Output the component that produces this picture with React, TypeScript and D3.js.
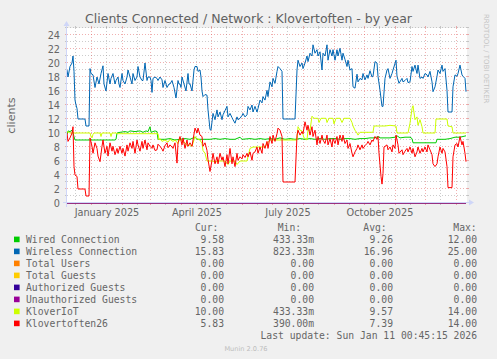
import React from "react";
import * as d3 from "d3";

type Pt = [number, number];

// Time window of the "by year" graph (400 days)
const START = Date.UTC(2024, 11, 7, 0, 45, 15);
const END = Date.UTC(2026, 0, 11, 0, 45, 15);

// [day offset from START, value]
const wiredData: Pt[] = [
  [0, 9.8], [1, 10.3], [3, 10.2], [5, 10.4], [6, 10], [7, 9.5], [8, 9.0], [48, 9.0], [49, 9.1], [50, 10],
  [53, 10.1], [58, 10.2], [61, 10.1], [63, 10.3], [68, 10.2], [73, 10.3], [76, 10.1], [79, 10.3], [81, 10.2],
  [83, 10.9], [84, 10.1], [88, 10.3], [90, 10.2], [91, 9.1], [98, 9.1], [103, 9.2], [108, 9.0], [113, 9.1],
  [118, 9.2], [123, 9.1], [128, 9.4], [130, 9.1], [138, 9.1], [143, 9.1], [148, 9.2], [153, 9.1], [158, 9.2],
  [163, 9.1], [168, 9.1], [173, 9.4], [175, 9.1], [183, 9.2], [188, 9.1], [193, 9.2], [198, 9.1], [203, 9.2],
  [208, 9.1], [213, 9.3], [218, 9.1], [223, 9.2], [228, 9.1], [233, 9.2], [238, 9.1], [243, 9.2], [248, 9.1],
  [253, 9.2], [258, 9.1], [263, 9.2], [268, 9.2], [273, 9.1], [278, 9.2], [283, 9.2], [288, 9.1], [293, 9.2],
  [298, 9.2], [303, 9.3], [308, 9.3], [311, 9.5], [313, 9.3], [323, 9.3], [328, 9.4], [330, 9.6], [333, 9.3],
  [338, 9.4], [343, 9.4], [345, 9.2], [346, 8.6], [353, 8.6], [358, 8.6], [363, 8.6], [369, 8.6], [370, 9.1],
  [378, 9.1], [383, 9.2], [388, 9.4], [393, 9.4], [396, 9.5], [399, 9.6],
];

const wirelessData: Pt[] = [
  [0, 19.0], [1, 18.0], [3, 19.5], [5, 20], [6, 21], [7, 18.8], [8, 14.7], [9, 14], [10, 13.5], [11, 12],
  [18, 12], [19, 11], [22, 11], [23, 19.2], [24, 18.5], [26, 18.3], [28, 16.5], [30, 18], [32, 17], [34, 18.5],
  [36, 19.6], [37, 17], [39, 16], [41, 18.5], [43, 17], [44, 17.8], [46, 18.5], [48, 17], [49, 17.5], [51, 18],
  [52, 17], [53, 16.5], [55, 18.5], [56, 17.5], [58, 17], [60, 18], [61, 19], [63, 18], [65, 17], [66, 18.5],
  [68, 17.5], [70, 18], [71, 19.5], [73, 18], [75, 17.5], [76, 17.5], [78, 20], [80, 17.5], [81, 18], [83, 18],
  [84, 17.5], [85, 15.8], [86, 17.8], [88, 18], [90, 17.8], [91, 17.5], [93, 18], [95, 17.6], [96, 16.5],
  [98, 17.5], [100, 16.5], [102, 17], [103, 17], [105, 17.5], [107, 16.5], [109, 15], [111, 17.5], [112, 17],
  [113, 17], [114, 16.5], [115, 18], [117, 17], [119, 16], [121, 18.5], [122, 17], [123, 17], [125, 16],
  [127, 19], [128, 19.5], [130, 19.5], [131, 18.8], [133, 19], [134, 18], [135, 16], [136, 15.2], [138, 15.5],
  [140, 15.4], [141, 13.3], [142, 11.9], [143, 10.5], [144, 10.4], [146, 12.8], [148, 11.9], [150, 13.3],
  [151, 12.3], [153, 13], [155, 11.9], [156, 12.6], [158, 13.2], [160, 13.8], [161, 12.3], [163, 12.8],
  [165, 12.2], [166, 11.9], [168, 11.4], [170, 12.3], [171, 11.9], [173, 12.1], [175, 12.5], [176, 12.8],
  [178, 12.3], [180, 12.6], [181, 13.8], [183, 13.3], [185, 14], [186, 13], [188, 13.8], [190, 13], [191, 13.5],
  [193, 14.7], [195, 14.3], [196, 15.2], [198, 14.7], [200, 16.1], [201, 15.2], [203, 17.3], [205, 16.6],
  [206, 17.8], [208, 17.1], [210, 18.8], [211, 19.5], [213, 19.2], [215, 18.8], [216, 12], [228, 12], [230, 19],
  [231, 20.4], [233, 19.5], [235, 20], [236, 19.2], [238, 20], [240, 21], [241, 20.2], [243, 21.4], [245, 21],
  [246, 22.6], [248, 21.4], [250, 21.9], [251, 21], [253, 21.6], [255, 19], [256, 21.4], [258, 21], [260, 22.6],
  [261, 20.4], [263, 21.9], [265, 21], [266, 21.9], [268, 20.4], [270, 21.9], [271, 21], [273, 22.1], [275, 20.4],
  [276, 21.4], [278, 20.5], [280, 19.5], [281, 20.4], [283, 19], [285, 19.2], [286, 16.6], [288, 16.4],
  [290, 18.4], [291, 17.3], [293, 17.8], [295, 17.6], [296, 18.5], [298, 17.6], [300, 18.3], [301, 17.8],
  [303, 18.9], [305, 18], [306, 18.1], [308, 20.2], [310, 20], [311, 18.1], [313, 16.1], [315, 13.8], [316, 13.8],
  [318, 17.8], [320, 19], [321, 19.2], [323, 17.8], [325, 18.5], [326, 19], [329, 20.4], [330, 18.1], [332, 17.1],
  [335, 17.8], [336, 17.3], [338, 17.5], [340, 17.8], [341, 17.2], [343, 17.3], [345, 19.5], [346, 18.8],
  [348, 19.7], [350, 18.5], [351, 19.7], [353, 17.8], [355, 18], [356, 17.8], [358, 18.5], [360, 18.3], [361, 18],
  [363, 18.8], [365, 17.3], [366, 15.9], [368, 16.6], [370, 18.1], [371, 19], [373, 18.5], [375, 19.7],
  [376, 18.8], [378, 19.2], [380, 16.1], [381, 13], [385, 13], [386, 16.6], [388, 18.3], [390, 18.1], [391, 18.5],
  [393, 19.7], [395, 18.3], [396, 18.1], [398, 17.8], [399, 15.9],
];

const totalUsersData: Pt[] = [[0, 0], [399, 0]];
const totalGuestsData: Pt[] = [[0, 0], [399, 0]];
const authorizedData: Pt[] = [[0, 0], [399, 0]];
const unauthorizedData: Pt[] = [[0, 0], [399, 0]];

const kloverIoTData: Pt[] = [
  [0, 10.2], [3, 10], [23, 10], [24, 9.5], [25, 9.3], [26, 9.8], [27, 10], [33, 10], [34, 9.5], [35, 10],
  [43, 10], [44, 9.5], [45, 10], [49, 10], [50, 9.9], [91, 9.9], [92, 9.0], [93, 9.2], [95, 8.8], [98, 9.0],
  [101, 8.7], [103, 9.1], [106, 8.8], [108, 9.0], [111, 8.5], [113, 9.3], [115, 8.8], [118, 8.6], [120, 8.2],
  [123, 8.3], [125, 8.1], [128, 9.5], [130, 9.2], [133, 9.0], [135, 8.5], [136, 7.5], [138, 7.1], [140, 6.0],
  [146, 6.0], [148, 5.8], [151, 6.0], [158, 6.0], [161, 5.5], [163, 6.0], [168, 6.0], [170, 5.5], [173, 6.0],
  [180, 6.0], [183, 7.8], [186, 8.0], [198, 8.0], [200, 8.5], [203, 9.0], [230, 9.0], [231, 10.9], [233, 10.4],
  [235, 10.3], [237, 9.3], [240, 9.0], [241, 10.4], [243, 10.4], [245, 12.4], [247, 12.1], [251, 12.1],
  [252, 11.5], [254, 12.1], [259, 12.1], [260, 11.5], [262, 12.1], [266, 12.1], [267, 11.3], [269, 12.1],
  [273, 12.1], [275, 11.5], [277, 12.1], [283, 12.1], [285, 11.5], [286, 11.0], [288, 10.4], [290, 10.0],
  [291, 9.7], [293, 10.1], [306, 10.1], [307, 11.0], [313, 11.0], [318, 11.0], [323, 11.1], [329, 11.0],
  [330, 10.0], [341, 10.0], [343, 11.4], [345, 13.5], [346, 13.9], [348, 11.9], [350, 12.3], [351, 11.1],
  [353, 11.9], [355, 10.9], [356, 10.0], [368, 10.0], [369, 12.0], [380, 12.0], [381, 11.0], [385, 10.9],
  [386, 10.0], [399, 10.0],
];

const klovertoften26Data: Pt[] = [
  [0, 10], [1, 8.8], [3, 9.3], [5, 10], [6, 10.9], [7, 5.2], [8, 4], [10, 3.8], [11, 2], [18, 2], [19, 1],
  [22, 1], [23, 9.3], [25, 8.1], [26, 7.1], [28, 8.6], [30, 7.8], [31, 6.7], [33, 5.9], [35, 8.1], [36, 9],
  [38, 7.1], [40, 8.1], [41, 6.7], [43, 8.6], [45, 7.4], [46, 8.1], [48, 6.9], [50, 7.8], [51, 7.1], [53, 8.1],
  [55, 7.1], [56, 7.8], [58, 6.7], [60, 8.3], [61, 7.4], [63, 8.6], [65, 7.8], [66, 8.8], [68, 7.1], [70, 9],
  [71, 8.3], [73, 7.4], [75, 8.8], [76, 7.8], [78, 9], [80, 7.6], [81, 8.6], [83, 8.1], [85, 7.8], [86, 8.3],
  [88, 7.5], [90, 7.6], [91, 8.4], [93, 8.1], [95, 7.7], [96, 7.4], [98, 8.2], [100, 8.6], [101, 7.9], [103, 8.3],
  [105, 8], [106, 7.8], [108, 8.6], [110, 5.7], [111, 8.6], [113, 9.5], [115, 8.3], [116, 9.3], [118, 7.8],
  [120, 9], [121, 8.1], [123, 8.6], [125, 8.1], [126, 9], [128, 10.7], [130, 10], [131, 10.7], [133, 9.7],
  [135, 9.5], [136, 8.1], [138, 8.6], [140, 7.5], [141, 6.2], [143, 4.5], [145, 6.1], [146, 7.1], [148, 5.6],
  [150, 6.6], [151, 5.6], [153, 7.1], [155, 6.1], [156, 6.6], [158, 5.2], [160, 6.9], [161, 5.6], [163, 7.8],
  [165, 5.6], [166, 6.6], [168, 5.2], [170, 7.1], [171, 6.1], [173, 6.6], [175, 6.3], [176, 6.9], [178, 6.5],
  [180, 7.1], [181, 6.6], [183, 7.3], [185, 6.1], [186, 7.1], [188, 7.3], [190, 8.0], [191, 7.1], [193, 8.0],
  [195, 7.1], [196, 8.5], [198, 7.8], [200, 8.8], [201, 7.8], [203, 9.5], [205, 8.5], [206, 9.7], [208, 8.8],
  [210, 9.9], [211, 10.7], [213, 10.4], [215, 9.5], [216, 3], [228, 3], [230, 9.7], [231, 10.4], [233, 9.7],
  [235, 10.2], [236, 9.9], [238, 11.6], [240, 10.4], [241, 11.1], [243, 9.7], [245, 10.9], [246, 9.5],
  [248, 10.4], [250, 8.3], [251, 9.5], [253, 8.5], [255, 9.7], [256, 9], [258, 8.5], [260, 9.7], [261, 8.3],
  [263, 9.2], [265, 8.0], [266, 9.2], [268, 8.5], [270, 9.5], [271, 8.3], [273, 9.7], [275, 8.8], [276, 9.7],
  [278, 8.5], [280, 9], [281, 7.8], [283, 8.5], [285, 7.1], [286, 6.6], [288, 7.3], [290, 7.8], [291, 8.3],
  [293, 7.6], [295, 8.3], [296, 7.8], [298, 8.2], [300, 8.5], [301, 8.8], [303, 8.3], [305, 9], [306, 8.8],
  [308, 9.5], [310, 9.1], [311, 9.5], [312, 7.1], [314, 3.8], [315, 2.7], [316, 4.2], [317, 8], [320, 8.3],
  [321, 7.6], [323, 8], [325, 7.3], [326, 8.3], [328, 7.8], [329, 9.7], [331, 8.3], [332, 7.1], [335, 7.6],
  [336, 6.9], [338, 7.4], [340, 7.8], [341, 7.3], [343, 8], [345, 7.1], [346, 7.8], [348, 6.6], [350, 7.3],
  [351, 8], [353, 7.1], [355, 7.8], [356, 7.3], [358, 8], [360, 7.3], [361, 8.3], [363, 7.6], [365, 6.9],
  [366, 5.6], [368, 5.2], [370, 5.6], [371, 6.6], [373, 8], [375, 7.1], [376, 7.8], [378, 7.3], [380, 5.2],
  [381, 2.2], [385, 2.2], [386, 6.6], [388, 8.3], [390, 8.5], [391, 8], [393, 9.5], [395, 8.3], [396, 8.8],
  [398, 7.1], [399, 5.9],
];

const seriesNames = [
  "Wired Connection", "Wireless Connection", "Total Users", "Total Guests",
  "Authorized Guests", "Unauthorized Guests", "KloverIoT", "Klovertoften26",
];
const seriesColors = ["#00CC00", "#0066B3", "#FF8000", "#FFCC00", "#330099", "#990099", "#CCFF00", "#FF0000"];
const curValues = ["9.58", "15.83", "0.00", "0.00", "0.00", "0.00", "10.00", "5.83"];
const minValues = ["433.33m", "823.33m", "0.00", "0.00", "0.00", "0.00", "433.33m", "390.00m"];
const avgValues = ["9.26", "16.96", "0.00", "0.00", "0.00", "0.00", "9.57", "7.39"];
const maxValues = ["12.00", "25.00", "0.00", "0.00", "0.00", "0.00", "14.00", "14.00"];
const yTickValues = [0, 2, 4, 6, 8, 10, 12, 14, 16, 18, 20, 22, 24];
const yMinorValues = [1, 3, 5, 7, 9, 11, 13, 15, 17, 19, 21, 23, 25];
const xLabelMonths = ["2025-01", "2025-04", "2025-07", "2025-10"];

const TITLE = "Clients Connected / Network : Klovertoften - by year";
const Y_LABEL = "clients";
const LAST_UPDATE = "Last update: Sun Jan 11 00:45:15 2026";
const WATERMARK = "Munin 2.0.76";
const SIGN = "RRDTOOL / TOBI OETIKER";

const W = 497;
const H = 359;
const X0 = 67;
const X1 = 467;
const Y0 = 203;
const Y1 = 28;

const FONT = "'DejaVu Sans', sans-serif";
const MONO = "'DejaVu Sans Mono', monospace";
const TXT = "#666666";
const AXIS = "#CFD6F8";
const GRID = "rgba(143,143,143,0.45)";
const MGRID = "rgba(222,79,79,0.45)";
const DASH = "1,2";

export default function App() {
  const start = new Date(START);
  const end = new Date(END);
  const x = d3.scaleUtc().domain([start, end]).range([X0, X1]);
  const y = d3.scaleLinear().domain([0, 25]).range([Y0, Y1]);
  const dayDate = (d: number) => new Date(START + d * 86400000);
  const line = d3
    .line<Pt>()
    .x((d) => x(dayDate(d[0])))
    .y((d) => y(d[1]));

  const allData = [
    wiredData, wirelessData, totalUsersData, totalGuestsData,
    authorizedData, unauthorizedData, kloverIoTData, klovertoften26Data,
  ];

  const snap = (v: number) => Math.round(v) - 0.5;

  const majorX = d3.utcMonth.range(start, end);
  const minorX = d3.utcMonth
    .range(d3.utcMonth.floor(start), end)
    .map((m) => d3.utcDay.offset(m, 15))
    .filter((d) => d > start && d < end);

  const parseMonth = d3.utcParse("%Y-%m");
  const fmt = d3.utcFormat("%B %Y");

  const legendTop = 243;
  const rowH = 12;

  const hGrid = (v: number, color: string, key: string) => {
    const yy = snap(y(v));
    return (
      <g key={key}>
        <line x1={X0} x2={X1} y1={yy} y2={yy} stroke={color} strokeWidth={1} strokeDasharray={DASH} />
        <line x1={X0 - 2} x2={X0} y1={yy} y2={yy} stroke={color} strokeWidth={1} />
        <line x1={X1} x2={X1 + 2} y1={yy} y2={yy} stroke={color} strokeWidth={1} />
      </g>
    );
  };
  const vGrid = (d: Date, color: string, key: string) => {
    const xx = snap(x(d));
    return (
      <g key={key}>
        <line x1={xx} x2={xx} y1={Y1} y2={Y0} stroke={color} strokeWidth={1} strokeDasharray={DASH} />
        <line x1={xx} x2={xx} y1={Y1 - 2} y2={Y1} stroke={color} strokeWidth={1} />
        <line x1={xx} x2={xx} y1={Y0} y2={Y0 + 2} stroke={color} strokeWidth={1} />
      </g>
    );
  };

  return (
    <svg
      width={W}
      height={H}
      style={{ position: "absolute", left: 0, top: 0, display: "block" }}
      xmlns="http://www.w3.org/2000/svg"
    >
      <rect x={0} y={0} width={W} height={H} fill="#F0F0F0" />
      <rect x={X0} y={Y1} width={X1 - X0} height={Y0 - Y1} fill="#FFFFFF" />

      {yMinorValues.map((v) => hGrid(v, GRID, "hm" + v))}
      {minorX.map((d, i) => vGrid(d, GRID, "vm" + i))}
      {yTickValues.filter((v) => v > 0).map((v) => hGrid(v, MGRID, "hM" + v))}
      {majorX.map((d, i) => vGrid(d, MGRID, "vM" + i))}

      {/* data lines */}
      {allData.map((data, i) => (
        <path
          key={"s" + i}
          d={line(data) || ""}
          fill="none"
          stroke={seriesColors[i]}
          strokeWidth={1}
          strokeLinejoin="round"
        />
      ))}

      {/* axes (drawn over the data, as rrdtool does) */}
      <line x1={X0 - 4} x2={X1 + 4} y1={Y0 - 0.5} y2={Y0 - 0.5} stroke={AXIS} strokeWidth={1} />
      <line x1={X0 - 0.5} x2={X0 - 0.5} y1={Y0 + 4} y2={Y1 - 4} stroke={AXIS} strokeWidth={1} />
      <polygon points={`${X1 + 2},${Y0 - 3.5} ${X1 + 2},${Y0 + 2.5} ${X1 + 7},${Y0 - 0.5}`} fill={AXIS} />
      <polygon points={`${X0 - 3.5},${Y1 - 2} ${X0 + 2.5},${Y1 - 2} ${X0 - 0.5},${Y1 - 7}`} fill={AXIS} />

      {/* y tick labels */}
      {yTickValues.map((v) => (
        <text
          key={"yl" + v}
          x={X0 - 7}
          y={y(v) + 3.5}
          textAnchor="end"
          fontFamily={FONT}
          fontSize={9.72}
          fill={TXT}
        >
          {v}
        </text>
      ))}

      {/* x labels */}
      {xLabelMonths.map((m) => {
        const dm = parseMonth(m) as Date;
        return (
          <text
            key={"xl" + m}
            x={x(d3.utcDay.offset(dm, 15))}
            y={216}
            textAnchor="middle"
            fontFamily={FONT}
            fontSize={9.72}
            fill={TXT}
          >
            {fmt(dm)}
          </text>
        );
      })}

      {/* title */}
      <text x={W / 2} y={23} textAnchor="middle" fontFamily={FONT} fontSize={12.5} fill="#606060">
        {TITLE}
      </text>

      {/* y axis label */}
      <text
        transform={`translate(15, ${(Y0 + Y1) / 2}) rotate(-90)`}
        textAnchor="middle"
        fontFamily={FONT}
        fontSize={11.1}
        fill={TXT}
      >
        {Y_LABEL}
      </text>

      {/* rrdtool sign */}
      <text
        transform="translate(484, 14) rotate(90)"
        textAnchor="start"
        fontFamily={FONT}
        fontSize={6.94}
        fill="#C4C4C4"
      >
        {SIGN}
      </text>

      {/* legend header */}
      {[
        ["Cur:", 195],
        ["Min:", 277.7],
        ["Avg:", 363.3],
        ["Max:", 453.3],
      ].map(([t, xx]) => (
        <text key={"h" + t} x={xx as number} y={230.5} fontFamily={MONO} fontSize={9.72} fill={TXT}>
          {t}
        </text>
      ))}

      {seriesNames.map((name, i) => {
        const by = legendTop + i * rowH;
        return (
          <g key={"lg" + i}>
            <rect x={14} y={by - 6.4} width={5.6} height={5.6} fill={seriesColors[i]} />
            <text x={26} y={by} fontFamily={MONO} fontSize={9.72} fill={TXT} style={{ whiteSpace: "pre" }}>
              {name}
            </text>
            <text x={224} y={by} textAnchor="end" fontFamily={MONO} fontSize={9.72} fill={TXT}>
              {curValues[i]}
            </text>
            <text x={314} y={by} textAnchor="end" fontFamily={MONO} fontSize={9.72} fill={TXT}>
              {minValues[i]}
            </text>
            <text x={393} y={by} textAnchor="end" fontFamily={MONO} fontSize={9.72} fill={TXT}>
              {avgValues[i]}
            </text>
            <text x={477} y={by} textAnchor="end" fontFamily={MONO} fontSize={9.72} fill={TXT}>
              {maxValues[i]}
            </text>
          </g>
        );
      })}

      <text x={477} y={339} textAnchor="end" fontFamily={MONO} fontSize={9.72} fill={TXT} style={{ whiteSpace: "pre" }}>
        {LAST_UPDATE}
      </text>

      <text x={246} y={350.5} textAnchor="middle" fontFamily={FONT} fontSize={6.6} fill="#BDBDBD">
        {WATERMARK}
      </text>
    </svg>
  );
}
